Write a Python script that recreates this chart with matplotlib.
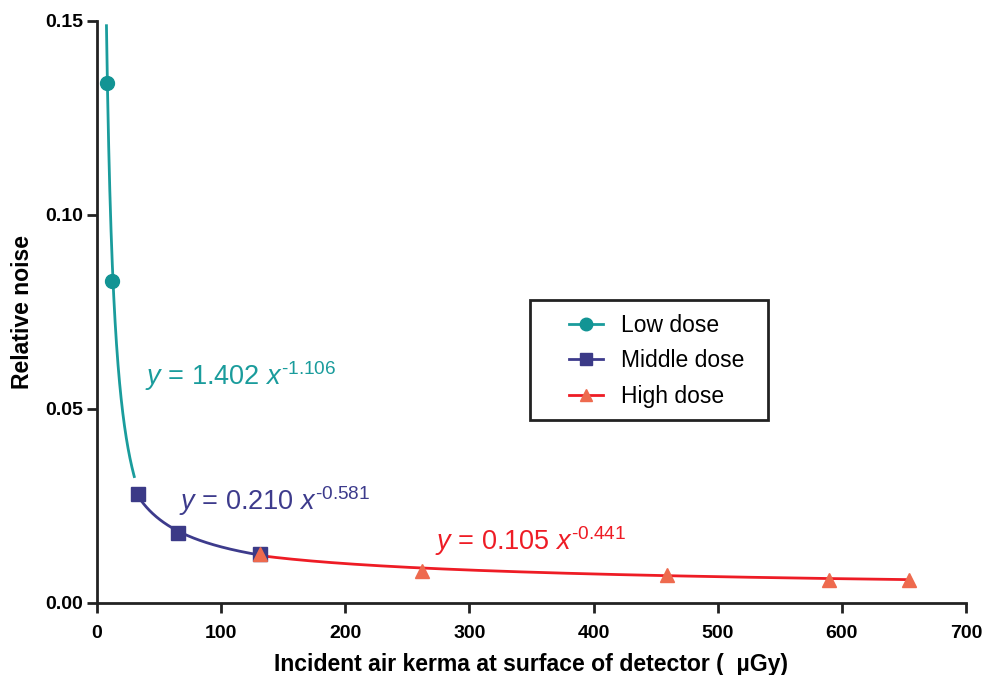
import numpy as np
import matplotlib.pyplot as plt
from matplotlib.patches import Rectangle

plt.rcParams['font.family'] = ['Liberation Sans', 'DejaVu Sans']
plt.rcParams['mathtext.fontset'] = 'custom'
plt.rcParams['mathtext.rm'] = 'Liberation Sans'
plt.rcParams['mathtext.it'] = 'Liberation Sans:italic'

# measured points
low_x = [8, 12]
low_y = [0.134, 0.083]
mid_x = [33, 65, 131]
mid_y = [0.028, 0.018, 0.0125]
high_x = [131, 262, 459, 590, 654]
high_y = [0.0125, 0.0083, 0.0073, 0.0060, 0.0059]

# power-law fits printed on the chart: y = a * x^b, drawn over [x0, x1]
fit_low = (1.402, -1.106, 7.6, 30)
fit_mid = (0.210, -0.581, 33, 131)
fit_high = (0.105, -0.441, 131, 654)

c_low, c_low_m = '#1a9c9c', '#129494'
c_mid, c_mid_m = '#3d3b8c', '#3b3a87'
c_high, c_high_m = '#ee1c25', '#ee6a4e'

fig = plt.figure(figsize=(9.87, 6.75), dpi=100)
ax = fig.add_axes([0.0983, 0.1067, 0.8804, 0.8622])


def fit_curve(a, b, x0, x1):
    xs = np.linspace(x0, x1, 200)
    return xs, a * xs ** b


for fit, col in [(fit_low, c_low), (fit_mid, c_mid), (fit_high, c_high)]:
    xs, ys = fit_curve(*fit)
    ax.plot(xs, ys, color=col, lw=2, zorder=2)

ax.plot(low_x, low_y, 'o', color=c_low_m, ms=10, zorder=3)
ax.plot(mid_x, mid_y, 's', color=c_mid_m, ms=9.5, zorder=3)
ax.plot(high_x, high_y, '^', color=c_high_m, ms=10, zorder=4)

# legend proxies
ax.plot([], [], '-o', color=c_low, mfc=c_low_m, mec=c_low_m, lw=2, ms=9, label='Low dose')
ax.plot([], [], '-s', color=c_mid, mfc=c_mid_m, mec=c_mid_m, lw=2, ms=9, label='Middle dose')
ax.plot([], [], '-^', color=c_high, mfc=c_high_m, mec=c_high_m, lw=2, ms=9, label='High dose')
leg = ax.legend(loc='upper left', bbox_to_anchor=(0.5432, 0.497), frameon=False,
                fontsize=16.5, borderpad=0, handlelength=1.5, handletextpad=0.75,
                labelspacing=0.55, borderaxespad=0)
ax.add_patch(Rectangle((0.4983, 0.3144), 0.2739, 0.2062, transform=ax.transAxes,
                       fill=False, lw=2, edgecolor='#222222', zorder=5))

eq_size = 19.5
ax.text(39, 0.0562, r'$y$ = 1.402 $x^{\text{-1.106}}$', color=c_low, fontsize=eq_size)
ax.text(66, 0.0240, r'$y$ = 0.210 $x^{\text{-0.581}}$', color=c_mid, fontsize=eq_size)
ax.text(272, 0.0137, r'$y$ = 0.105 $x^{\text{-0.441}}$', color=c_high, fontsize=eq_size)

ax.set_xlim(0, 700)
ax.set_ylim(0, 0.15)
ax.set_xticks(range(0, 701, 100))
ax.set_yticks([0, 0.05, 0.10, 0.15])
ax.set_yticklabels(['0.00', '0.05', '0.10', '0.15'])
for s in ['top', 'right']:
    ax.spines[s].set_visible(False)
for s in ['left', 'bottom']:
    ax.spines[s].set_linewidth(2)
    ax.spines[s].set_color('#222222')
ax.tick_params(direction='out', width=2, length=7, color='#222222', labelsize=14)
ax.tick_params(axis='x', pad=9)
ax.tick_params(axis='y', pad=3)
for lab in ax.get_xticklabels() + ax.get_yticklabels():
    lab.set_fontweight('bold')
ax.set_xlabel('Incident air kerma at surface of detector (  \u00b5Gy)', fontsize=16.6,
              fontweight='bold', labelpad=8)
ax.set_ylabel('Relative noise', fontsize=16.6, fontweight='bold', labelpad=8)

fig.savefig('out.png', dpi=100)
